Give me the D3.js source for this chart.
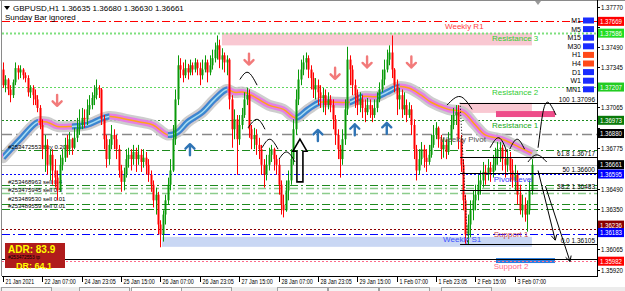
<!DOCTYPE html>
<html><head><meta charset="utf-8">
<script src="https://cdn.jsdelivr.net/npm/d3@7"></script>
<style>html,body{margin:0;padding:0;background:#fff;overflow:hidden}svg{display:block;font-family:"Liberation Sans",Arial,sans-serif}</style>
</head><body><svg id="c" width="625" height="291"></svg>
<script>
// ---------------- DATA ----------------
const symbolTitle = "GBPUSD,H1  1.36635 1.36680 1.36630 1.36661";
const subTitle = "Sunday Bar ignored";
const firstOpen = 1.3733;
const closes = [
1.3722,1.3726,1.3719,1.3715,1.3724,1.3734,1.3731,1.3733,1.3729,1.3727,
1.3717,1.3720,1.3715,1.3712,1.3706,1.3694,1.3677,1.3680,1.3666,1.3673,
1.3662,1.3657,1.3648,1.3666,1.3671,1.3680,1.3677,1.3684,1.3678,1.3685,
1.3691,1.3694,1.3699,1.3698,1.3705,1.3708,1.3713,1.3715,1.3720,1.3719,
1.3698,1.3684,1.3670,1.3680,1.3687,1.3684,1.3677,1.3662,1.3654,1.3659,
1.3670,1.3673,1.3670,1.3675,1.3670,1.3673,1.3668,1.3671,1.3666,1.3659,
1.3652,1.3641,1.3645,1.3624,1.3617,1.3631,1.3641,1.3652,1.3662,1.3684,
1.3712,1.3736,1.3733,1.3729,1.3734,1.3731,1.3736,1.3733,1.3738,1.3734,
1.3729,1.3733,1.3738,1.3731,1.3736,1.3741,1.3747,1.3750,1.3740,1.3743,
1.3738,1.3740,1.3712,1.3691,1.3698,1.3684,1.3694,1.3701,1.3712,1.3715,
1.3691,1.3684,1.3687,1.3680,1.3677,1.3666,1.3659,1.3666,1.3673,1.3677,
1.3670,1.3666,1.3652,1.3638,1.3634,1.3648,1.3655,1.3670,1.3691,1.3712,
1.3726,1.3733,1.3738,1.3741,1.3733,1.3727,1.3719,1.3722,1.3717,1.3713,
1.3715,1.3708,1.3712,1.3708,1.3698,1.3687,1.3677,1.3670,1.3684,1.3705,
1.3740,1.3733,1.3722,1.3715,1.3708,1.3712,1.3706,1.3703,1.3708,1.3705,
1.3701,1.3706,1.3712,1.3719,1.3726,1.3733,1.3740,1.3745,1.3733,1.3722,
1.3712,1.3715,1.3705,1.3708,1.3701,1.3705,1.3694,1.3677,1.3662,1.3670,
1.3677,1.3671,1.3668,1.3673,1.3680,1.3687,1.3692,1.3684,1.3677,1.3680,
1.3675,1.3684,1.3694,1.3701,1.3703,1.3684,1.3666,1.3641,1.3617,1.3624,
1.3634,1.3641,1.3645,1.3652,1.3655,1.3661,1.3659,1.3664,1.3661,1.3666,
1.3671,1.3677,1.3678,1.3670,1.3666,1.3671,1.3662,1.3655,1.3659,1.3645,
1.3634,1.3638,1.3631,1.3634,1.3648,1.3666];
const highs = [
1.3738,1.3729,1.3727,1.3722,1.3726,1.3738,1.3736,1.3736,1.3734,1.3731,
1.3729,1.3722,1.3722,1.3719,1.3715,1.3708,1.3698,1.3687,1.3684,1.3677,
1.3677,1.3670,1.3662,1.3673,1.3677,1.3685,1.3687,1.3689,1.3685,1.3692,
1.3699,1.3705,1.3706,1.3705,1.3712,1.3715,1.3717,1.3722,1.3726,1.3722,
1.3720,1.3701,1.3687,1.3684,1.3694,1.3691,1.3687,1.3680,1.3666,1.3664,
1.3677,1.3678,1.3677,1.3680,1.3678,1.3680,1.3677,1.3677,1.3675,1.3670,
1.3662,1.3655,1.3650,1.3647,1.3627,1.3634,1.3645,1.3657,1.3670,1.3694,
1.3719,1.3743,1.3741,1.3738,1.3740,1.3737,1.3740,1.3738,1.3741,1.3740,
1.3738,1.3740,1.3743,1.3740,1.3743,1.3747,1.3752,1.3757,1.3754,1.3748,
1.3745,1.3743,1.3741,1.3715,1.3705,1.3701,1.3701,1.3706,1.3717,1.3720,
1.3719,1.3694,1.3692,1.3691,1.3685,1.3680,1.3670,1.3673,1.3678,1.3680,
1.3678,1.3673,1.3670,1.3655,1.3645,1.3655,1.3662,1.3677,1.3698,1.3719,
1.3733,1.3740,1.3743,1.3745,1.3743,1.3736,1.3731,1.3727,1.3726,1.3722,
1.3720,1.3719,1.3717,1.3715,1.3712,1.3701,1.3691,1.3680,1.3691,1.3712,
1.3749,1.3743,1.3736,1.3726,1.3719,1.3717,1.3715,1.3712,1.3713,1.3712,
1.3708,1.3712,1.3717,1.3724,1.3733,1.3740,1.3747,1.3750,1.3757,1.3734,
1.3726,1.3720,1.3719,1.3717,1.3712,1.3710,1.3708,1.3698,1.3680,1.3677,
1.3682,1.3680,1.3677,1.3680,1.3687,1.3694,1.3696,1.3693,1.3687,1.3685,
1.3684,1.3689,1.3701,1.3706,1.3708,1.3708,1.3687,1.3670,1.3645,1.3631,
1.3641,1.3648,1.3652,1.3659,1.3662,1.3668,1.3666,1.3670,1.3668,1.3673,
1.3678,1.3682,1.3682,1.3680,1.3677,1.3677,1.3675,1.3670,1.3666,1.3662,
1.3652,1.3645,1.3643,1.3641,1.3655,1.3670];
const lows = [
1.3720,1.3717,1.3715,1.3710,1.3713,1.3722,1.3726,1.3727,1.3726,1.3724,
1.3714,1.3713,1.3708,1.3708,1.3703,1.3691,1.3670,1.3661,1.3659,1.3655,
1.3652,1.3650,1.3641,1.3647,1.3662,1.3668,1.3671,1.3673,1.3673,1.3677,
1.3682,1.3687,1.3691,1.3692,1.3694,1.3701,1.3705,1.3708,1.3712,1.3713,
1.3694,1.3677,1.3664,1.3666,1.3677,1.3677,1.3670,1.3657,1.3647,1.3648,
1.3657,1.3664,1.3662,1.3666,1.3661,1.3666,1.3661,1.3664,1.3659,1.3654,
1.3647,1.3636,1.3631,1.3617,1.3608,1.3612,1.3624,1.3638,1.3648,1.3661,
1.3680,1.3708,1.3727,1.3724,1.3727,1.3726,1.3729,1.3729,1.3731,1.3729,
1.3722,1.3726,1.3731,1.3724,1.3729,1.3733,1.3738,1.3740,1.3734,1.3733,
1.3731,1.3729,1.3705,1.3678,1.3684,1.3659,1.3680,1.3691,1.3699,1.3708,
1.3685,1.3677,1.3677,1.3673,1.3670,1.3659,1.3650,1.3655,1.3662,1.3668,
1.3662,1.3659,1.3645,1.3631,1.3629,1.3633,1.3641,1.3652,1.3666,1.3687,
1.3708,1.3722,1.3729,1.3733,1.3727,1.3719,1.3713,1.3712,1.3708,1.3706,
1.3703,1.3701,1.3705,1.3703,1.3691,1.3680,1.3670,1.3657,1.3666,1.3680,
1.3701,1.3722,1.3715,1.3706,1.3701,1.3703,1.3699,1.3696,1.3701,1.3699,
1.3696,1.3699,1.3703,1.3710,1.3717,1.3722,1.3731,1.3736,1.3727,1.3717,
1.3701,1.3705,1.3699,1.3701,1.3696,1.3699,1.3687,1.3670,1.3655,1.3659,
1.3666,1.3664,1.3661,1.3666,1.3671,1.3678,1.3684,1.3678,1.3670,1.3671,
1.3670,1.3673,1.3680,1.3691,1.3694,1.3677,1.3661,1.3634,1.3610,1.3610,
1.3615,1.3627,1.3634,1.3641,1.3645,1.3650,1.3652,1.3655,1.3654,1.3657,
1.3662,1.3666,1.3668,1.3662,1.3657,1.3661,1.3654,1.3650,1.3648,1.3638,
1.3631,1.3629,1.3626,1.3619,1.3631,1.3645];

const timeLabels = ["21 Jan 2021","22 Jan 07:00","24 Jan 23:05","25 Jan 15:00","26 Jan 07:00","26 Jan 23:05","27 Jan 15:00","28 Jan 07:00","28 Jan 23:05","29 Jan 15:00","1 Feb 07:00","1 Feb 23:05","2 Feb 15:00","3 Feb 07:00"];
const timeLabelBars = [0,16,32,48,64,80,96,112,128,144,160,176,192,208];
const priceTicks = [1.37770,1.37630,1.37490,1.37345,1.37205,1.37065,1.36920,1.36775,1.36635,1.36490,1.36350,1.36205,1.36065,1.35920];

// moving-average ribbon
const maBars   = [0,7,14,18,22,28,34,43,50,56,61,67,71,75,81,86,91,94,98,102,108,114,119,124,129,136,141,146,152,156,161,165,170,174,181,187,192,196,203,208,215];
const maValues = [1.3671,1.3684,1.3696,1.3696,1.3693,1.3693,1.3694,1.3700,1.3698,1.3696,1.3694,1.3687,1.3689,1.3696,1.3703,1.3712,1.3719,1.3717,1.3717,1.3714,1.3708,1.3705,1.3699,1.3705,1.3710,1.3710,1.3710,1.3714,1.3714,1.3717,1.3721,1.3720,1.3715,1.3710,1.3705,1.3703,1.3694,1.3687,1.3684,1.3680,1.3674];

// horizontal levels
const levelKeys   = ["weeklyR1","res3","res2","res1","weeklyPivot","buy1","bid","pivot","sell1","sell2","sell3","sell4","sell5","sup1","weeklyS1","round","sup2"];
const levelPrices = [1.37669,1.37586,1.37207,1.36973,1.36880,1.36764,1.36661,1.36595,1.36520,1.36497,1.36462,1.36385,1.36350,1.36208,1.36170,1.36000,1.35982];
const levelNames  = ["Weekly R1","Resistance 3","Resistance 2","Resistance 1","Weekly Pivot","","","Pivot Level","","","","","","Support 1","Weekly S1","","Support 2"];
const levelNameBars = [179.7,198.8,198.8,198.8,177.6,0,0,199.5,0,0,0,0,0,199.5,178.9,0,199.5];
const orderTexts  = ["","","","","","#253472553 buy 0.20","","","#253468963 sell 0.4","#253475945 sell 0.5","","#253489530 sell 0.01","#253489559 sell 0.01","","","",""];
const orderTextShift = [0,0,0,0,0,-1,0,0,-1,4,0,-2.5,-0.5,0,0,0,0];

// zones
const zoneBarStart = [89,185.8,200.4,64.6,200.4];
const zoneBarEnd   = [215,215,224.4,215,224.4];
const zoneTop      = [1.37586,1.37096,1.37038,1.36153,1.36004];
const zoneBottom   = [1.37500,1.37025,1.36996,1.36083,1.35969];

// fibonacci
const fibLevels = ["100","61.8","50","38.2","0.0"];
const fibPrices = [1.37096,1.36717,1.36600,1.36483,1.36105];
const fibStartBar = 185.8, fibEndBar = 188.9;

// signal arrows
const downArrowBars = [22,100,135,148,166];
const downArrowPrices = [1.3711,1.3740,1.3730,1.3738,1.3738];
const upArrowBars = [76,128,143,156];
const upArrowPrices = [1.3677,1.3687,1.3691,1.3692];

// hand drawn arcs: [bar, price] triples
const arcBars = [[96.3,99.6,103.3],[99.6,103.3,106.5],[105.3,108.5,111.8],[112.2,115.4,118.7],[180.5,185.8,190.7],[198,201.6,204.9],[206,209,212],[213.4,217,221]];
const arcPrices = [[1.3726,1.3731,1.3722],[1.3692,1.3698,1.3691],[1.3678,1.3684,1.3677],[1.3670,1.3675,1.3668],[1.3708,1.3714,1.3705],[1.3678,1.3685,1.3675],[1.3677,1.3684,1.3677],[1.3668,1.3673,1.3668]];
const hookBars = [217.5,218.4,219.5,221.5,224.8];
const hookPrices = [1.3678,1.3690,1.3703,1.3710,1.3701];
const hollowArrowBar = 120.7, hollowArrowTop = 1.3684, hollowArrowBottom = 1.3654;
const trendLineBars = [[217.5,224.5],[220.5,230.5]];
const trendLinePrices = [[1.3662,1.3613],[1.3651,1.3598]];

// timeframe panel
const tfNames = ["M1","M5","M15","M30","H1","H4","D1","W1","MN1"];
const tfSignals = ["down","down","down","down","up","up","down","down","down"];

// right axis highlighted values
const axisBoxPrices = [1.37669,1.37586,1.37207,1.36973,1.36880,1.36661,1.36595,1.36236,1.36183,1.35982];
const axisBoxColors = ["#ff0000","#22dd22","#22cc22","#0a7a0a","#000000","#000000","#0000ff","#8b0000","#0000ff","#ff0000"];

const adrText = "ADR: 83.9", drText = "DR: 64.1";

// ---------------- DRAW ----------------
const svg = d3.select("#c");
const PL = 2, PR = 597, PT = 1, PB = 276;
const x = d3.scaleLinear().domain([0, 215]).range([3, 531.9]);
const y = d3.scaleLinear().domain([1.37770, 1.35920]).range([7, 270]);

svg.append("rect").attr("width",625).attr("height",291).attr("fill","#fff");
svg.append("defs").append("clipPath").attr("id","plot").append("rect")
  .attr("x",PL).attr("y",PT).attr("width",PR-PL).attr("height",PB-PT);
const g = svg.append("g").attr("clip-path","url(#plot)");

// zones
const zoneFills = ["#f9c8d2","#f9c8d2","#ee4c8a","#c9d7f4","#2a7fe0"];
zoneTop.forEach((t,i)=>{
  g.append("rect").attr("x",x(zoneBarStart[i])).attr("y",y(t))
   .attr("width",x(zoneBarEnd[i])-x(zoneBarStart[i])).attr("height",y(zoneBottom[i])-y(t))
   .attr("fill",zoneFills[i]);
});

// ADR panel (under lines)
svg.append("rect").attr("x",5).attr("y",243).attr("width",60).attr("height",25).attr("fill","#b01c1c");

// levels
const levelStyle = {
  weeklyR1:{c:"#ff0000",d:"8,3,2,3",w:1,t:"#ff4040"},
  res3:{c:"#7ee07e",d:"2,2",w:2,t:"#33cc33"},
  res2:{c:"#5fd85f",d:"2,2",w:1,t:"#33cc33"},
  res1:{c:"#1e8c1e",d:"2,2",w:1,t:"#22aa22"},
  weeklyPivot:{c:"#888888",d:"10,4,2,4",w:1.5,t:"#555555"},
  buy1:{c:"#1e8a1e",d:"8,3,2,3",w:1},
  bid:{c:"#c0c0c0",d:null,w:1},
  pivot:{c:"#0000ff",d:"2,2",w:1,t:"#3a3aff"},
  sell1:{c:"#1e8a1e",d:"8,3,2,3",w:1},
  sell2:{c:"#8ccc8c",d:"8,3,2,3",w:1.5},
  sell3:{c:"#8ccc8c",d:"8,3,2,3",w:1.5},
  sell4:{c:"#1e8a1e",d:"8,3,2,3",w:1},
  sell5:{c:"#1e8a1e",d:"8,3,2,3",w:1},
  sup1:{c:"#8b0000",d:"2,2",w:1,t:"#c84848"},
  weeklyS1:{c:"#0000ff",d:"8,3,2,3",w:1,t:"#3a50ff"},
  round:{c:"#000000",d:null,w:1},
  sup2:{c:"#ff6a8a",d:"2,2",w:1,t:"#ff6a8a"}
};
levelKeys.forEach((k,i)=>{
  const s = levelStyle[k];
  const yy = Math.round(y(levelPrices[i]))+0.5;
  const ln = g.append("line").attr("x1",PL).attr("x2",PR).attr("y1",yy).attr("y2",yy)
    .attr("stroke",s.c).attr("stroke-width",s.w);
  if (s.d) ln.attr("stroke-dasharray",s.d);
});

// MA ribbon
const maPts = maBars.map((b,i)=>[x(b),y(maValues[i])]);
const maLine = d3.line().curve(d3.curveCatmullRom.alpha(0.5));
const maPath = maLine(maPts);
const defs = svg.select("defs");
const upClip = defs.append("clipPath").attr("id","upclip");
for (let i=0;i<maValues.length-1;i++){
  if (maValues[i+1] > maValues[i]) {
    upClip.append("rect").attr("x",maPts[i][0]).attr("y",0)
      .attr("width",maPts[i+1][0]-maPts[i][0]+0.5).attr("height",291);
  }
}
g.append("path").attr("d",maPath).attr("fill","none").attr("stroke","#c4c4c4").attr("stroke-width",11).attr("stroke-linecap","round").attr("opacity",0.85);
g.append("path").attr("d",maPath).attr("fill","none").attr("stroke","#e47fe4").attr("stroke-width",6);
g.append("path").attr("d",maPath).attr("fill","none").attr("stroke","#ffa31a").attr("stroke-width",1.5);
const upG = g.append("g").attr("clip-path","url(#upclip)");
upG.append("path").attr("d",maPath).attr("fill","none").attr("stroke","#3a88cf").attr("stroke-width",6);
upG.append("path").attr("d",maPath).attr("fill","none").attr("stroke","#a9dcf3").attr("stroke-width",1.5);

// order texts
levelKeys.forEach((k,i)=>{
  if (!orderTexts[i]) return;
  g.append("text").attr("x",8).attr("y",y(levelPrices[i]) + orderTextShift[i]).attr("font-size",6)
    .attr("fill","#000").text(orderTexts[i]);
});

// candles
const opens = closes.map((c,i)=> i===0 ? firstOpen : closes[i-1]);
const cg = g.append("g");
closes.forEach((c,i)=>{
  const o = opens[i];
  const col = c >= o ? "#0a9a0a" : "#ff0000";
  const xr = Math.round(x(i));
  cg.append("rect").attr("x",xr).attr("width",1)
    .attr("y",y(highs[i])).attr("height",Math.max(1,y(lows[i])-y(highs[i]))).attr("fill",col);
  const top = y(Math.max(o,c)), bot = y(Math.min(o,c));
  cg.append("rect").attr("x",xr-0.5).attr("width",2)
    .attr("y",top).attr("height",Math.max(1,bot-top)).attr("fill",col);
});

// level labels
levelKeys.forEach((k,i)=>{
  if (!levelNames[i]) return;
  const s = levelStyle[k];
  g.append("text").attr("x",x(levelNameBars[i])).attr("y",y(levelPrices[i])+8)
    .attr("font-size",8).attr("fill",s.t).text(levelNames[i]);
});

// fibonacci
fibPrices.forEach((p,i)=>{
  const yy = Math.round(y(p))+0.5;
  g.append("line").attr("x1",x(fibStartBar)).attr("x2",PR).attr("y1",yy).attr("y2",yy)
    .attr("stroke","#000").attr("stroke-width",1.2);
  g.append("text").attr("x",PR-2).attr("y",yy-2).attr("text-anchor","end").attr("font-size",6.5)
    .attr("fill","#000").text(fibLevels[i]+" "+p.toFixed(5));
});
g.append("line").attr("x1",x(fibStartBar)).attr("y1",y(fibPrices[0]))
  .attr("x2",x(fibEndBar)).attr("y2",y(fibPrices[4]))
  .attr("stroke","#000").attr("stroke-dasharray","1,2");

// arrows
downArrowBars.forEach((b,i)=>{
  const cx = x(b), cy = y(downArrowPrices[i]);
  g.append("path").attr("d",`M${cx},${cy-6}L${cx},${cy+5}M${cx-4.5},${cy+0.5}L${cx},${cy+5}L${cx+4.5},${cy+0.5}`)
   .attr("fill","none").attr("stroke","#f27a7a").attr("stroke-width",2.4).attr("stroke-linecap","round").attr("stroke-linejoin","round");
});
upArrowBars.forEach((b,i)=>{
  const cx = x(b), cy = y(upArrowPrices[i]);
  g.append("path").attr("d",`M${cx},${cy+6}L${cx},${cy-5}M${cx-4.5},${cy-0.5}L${cx},${cy-5}L${cx+4.5},${cy-0.5}`)
   .attr("fill","none").attr("stroke","#2f74b5").attr("stroke-width",2.4).attr("stroke-linecap","round").attr("stroke-linejoin","round");
});

// hand drawings
const arcLine = d3.line().curve(d3.curveNatural);
arcBars.forEach((bs,i)=>{
  const pts = bs.map((b,j)=>[x(b),y(arcPrices[i][j])]);
  g.append("path").attr("d",arcLine(pts)).attr("fill","none").attr("stroke","#000").attr("stroke-width",1);
});
g.append("path").attr("d",arcLine(hookBars.map((b,j)=>[x(b),y(hookPrices[j])])))
  .attr("fill","none").attr("stroke","#000").attr("stroke-width",1);
{
  const cx = x(hollowArrowBar), yt = y(hollowArrowTop), yb = y(hollowArrowBottom);
  g.append("path").attr("d",`M${cx-3},${yb}L${cx-3},${yt+12}L${cx-7},${yt+12}L${cx},${yt}L${cx+7},${yt+12}L${cx+3},${yt+12}L${cx+3},${yb}Z`)
    .attr("fill","none").attr("stroke","#000").attr("stroke-width",1.6);
}
trendLineBars.forEach((bs,i)=>{
  const x1=x(bs[0]),y1=y(trendLinePrices[i][0]),x2=x(bs[1]),y2=y(trendLinePrices[i][1]);
  const ang = Math.atan2(y2-y1,x2-x1);
  const h = 6;
  const a1 = ang+Math.PI-0.5, a2 = ang+Math.PI+0.5;
  g.append("path").attr("d",`M${x1},${y1}L${x2},${y2}M${x2+h*Math.cos(a1)},${y2+h*Math.sin(a1)}L${x2},${y2}L${x2+h*Math.cos(a2)},${y2+h*Math.sin(a2)}`)
   .attr("fill","none").attr("stroke","#000").attr("stroke-width",1);
});

// ADR text
svg.append("text").attr("x",8).attr("y",253).attr("font-size",10).attr("font-weight","bold").attr("fill","#ffff00").text(adrText);
svg.append("text").attr("x",8).attr("y",259.3).attr("font-size",4.8).attr("fill","#000").text("#253472553 tp");
svg.append("text").attr("x",16).attr("y",268.8).attr("font-size",9).attr("font-weight","bold").attr("fill","#ffff00").text(drText);

// timeframe panel
const tfg = svg.append("g");
tfNames.forEach((n,i)=>{
  const yy = 20 + i*8.6;
  tfg.append("text").attr("x",581).attr("y",yy+3).attr("text-anchor","end").attr("font-size",7).attr("fill","#000").text(n);
  tfg.append("rect").attr("x",583).attr("y",yy-2.5).attr("width",11).attr("height",6)
    .attr("fill", tfSignals[i]==="up" ? "#ff4a1a" : "#1a2cff");
});

// header
svg.append("path").attr("d","M4,6L10,6L7,10Z").attr("fill","#000");
svg.append("text").attr("x",13).attr("y",11).attr("font-size",8).attr("fill","#000").text(symbolTitle);
svg.append("text").attr("x",5).attr("y",20).attr("font-size",8).attr("fill","#000").text(subTitle);
svg.append("path").attr("d","M535,1L541,1L538,5Z").attr("fill","#999");

// frame
svg.append("line").attr("x1",0).attr("x2",625).attr("y1",0.5).attr("y2",0.5).attr("stroke","#8a8a8a");
svg.append("line").attr("x1",1.5).attr("x2",1.5).attr("y1",0).attr("y2",PB).attr("stroke","#8a8a8a");
svg.append("line").attr("x1",PR+0.5).attr("x2",PR+0.5).attr("y1",0).attr("y2",PB+0.5).attr("stroke","#000");
svg.append("line").attr("x1",PL).attr("x2",PR+1).attr("y1",PB+0.5).attr("y2",PB+0.5).attr("stroke","#000");

// right axis
const ag = svg.append("g");
priceTicks.forEach(p=>{
  const yy = Math.round(y(p))+0.5;
  ag.append("line").attr("x1",PR).attr("x2",PR+3).attr("y1",yy).attr("y2",yy).attr("stroke","#000");
  const hidden = axisBoxPrices.some(b=>Math.abs(y(b)-y(p))<7);
  if (!hidden) ag.append("text").attr("x",601).attr("y",yy+2.5).attr("font-size",7)
    .attr("textLength",22).attr("lengthAdjust","spacingAndGlyphs").attr("fill","#000").text(p.toFixed(5));
});
axisBoxPrices.forEach((p,i)=>{
  const yy = y(p);
  ag.append("rect").attr("x",PR+1).attr("y",yy-4.5).attr("width",26).attr("height",9).attr("fill",axisBoxColors[i]);
  ag.append("text").attr("x",600).attr("y",yy+2.5).attr("font-size",7)
    .attr("textLength",22).attr("lengthAdjust","spacingAndGlyphs").attr("fill","#fff").text(p.toFixed(5));
});

// bottom time axis
const tg = svg.append("g");
timeLabelBars.forEach((b,i)=>{
  const xx = Math.round(x(b))+0.5;
  tg.append("line").attr("x1",xx).attr("x2",xx).attr("y1",PB).attr("y2",PB+6).attr("stroke","#000");
  tg.append("text").attr("x",xx+2).attr("y",PB+8).attr("font-size",6.5)
    .attr("textLength",timeLabels[i].length*2.6).attr("lengthAdjust","spacingAndGlyphs")
    .attr("fill","#000").text(timeLabels[i]);
});

// bottom tabs
svg.append("rect").attr("x",0).attr("y",287).attr("width",625).attr("height",4).attr("fill","#ececec");
[0,78,130,180,276,327,378,440].forEach(t=>{
  svg.append("rect").attr("x",t+1.5).attr("y",287.5).attr("width",50).attr("height",5).attr("fill",t===130?"#fff":"#f4f4f4").attr("stroke","#a0a0a0");
});
</script></body></html>
